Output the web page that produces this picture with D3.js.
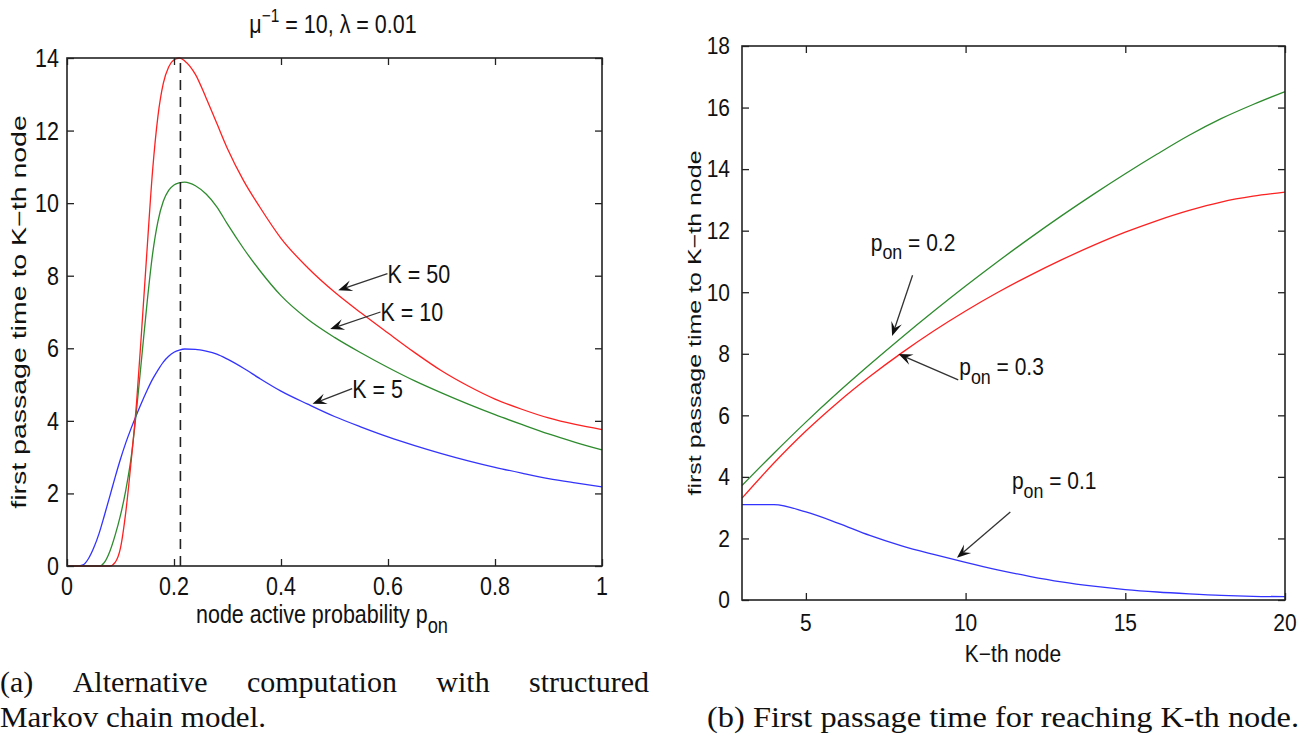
<!DOCTYPE html>
<html>
<head>
<meta charset="utf-8">
<script src="https://cdn.jsdelivr.net/npm/d3@7"></script>
<style>
  html, body { margin: 0; padding: 0; background: #fff; }
  svg { display: block; }
</style>
</head>
<body>
<svg id="chart" width="1311" height="735"></svg>
<script>
// ---------------- DATA ----------------
// (a) left panel: node active probability p_on vs first passage time
const pOn = [0, 0.02, 0.03, 0.04, 0.05, 0.06, 0.07, 0.08, 0.09, 0.10, 0.11, 0.12, 0.13, 0.14, 0.15,
  0.16, 0.17, 0.18, 0.19, 0.20, 0.21, 0.22, 0.24, 0.26, 0.28, 0.30, 0.33, 0.36, 0.40, 0.45,
  0.50, 0.55, 0.60, 0.65, 0.70, 0.75, 0.80, 0.85, 0.90, 0.95, 1.00];
const timeK5 = [0, 0, 0.03, 0.2, 0.5, 0.9, 1.4, 1.92, 2.45, 2.95, 3.4, 3.8, 4.17, 4.52, 4.85,
  5.15, 5.4, 5.62, 5.78, 5.89, 5.95, 5.98, 5.97, 5.92, 5.84, 5.7, 5.45, 5.17, 4.82, 4.46,
  4.12, 3.83, 3.56, 3.32, 3.1, 2.9, 2.72, 2.56, 2.41, 2.29, 2.18];
const timeK10 = [0, 0, 0, 0, 0, 0, 0.1, 0.4, 0.85, 1.4, 2.1, 3.0, 4.3, 5.8, 7.3,
  8.6, 9.5, 10.05, 10.35, 10.5, 10.56, 10.58, 10.48, 10.25, 9.9, 9.42, 8.75, 8.15, 7.45, 6.8,
  6.3, 5.87, 5.47, 5.1, 4.77, 4.46, 4.17, 3.9, 3.64, 3.41, 3.2];
const timeK50 = [0, 0, 0, 0, 0, 0, 0, 0, 0.1, 0.5, 1.5, 2.9, 4.5, 6.6, 8.8,
  10.9, 12.4, 13.3, 13.75, 13.95, 14.0, 13.92, 13.55, 12.9, 12.2, 11.5, 10.62, 9.9, 9.03, 8.22,
  7.55, 6.97, 6.42, 5.88, 5.38, 4.96, 4.6, 4.32, 4.08, 3.9, 3.76];
const leftSeriesNames = ["K = 5", "K = 10", "K = 50"];
const peakP = 0.212;                     // dashed marker at the optimum p_on
const leftXTicks = [0, 0.2, 0.4, 0.6, 0.8, 1];
const leftXTickLabels = ["0", "0.2", "0.4", "0.6", "0.8", "1"];
const leftYTicks = [0, 2, 4, 6, 8, 10, 12, 14];

// (b) right panel: K-th node vs first passage time
const kNode = [3, 4, 5, 6, 7, 8, 9, 10, 11, 12, 13, 14, 15, 16, 17, 18, 19, 20];
const timeP01 = [3.1, 3.1, 2.86, 2.5, 2.1, 1.76, 1.48, 1.22, 0.98, 0.77, 0.59, 0.45, 0.34, 0.26, 0.2, 0.15, 0.12, 0.11];
const timeP02 = [3.72, 4.77, 5.78, 6.74, 7.65, 8.53, 9.38, 10.2, 10.99, 11.75, 12.48, 13.18, 13.85, 14.49, 15.1, 15.64, 16.1, 16.52];
const timeP03 = [3.31, 4.45, 5.49, 6.42, 7.26, 8.03, 8.74, 9.39, 9.99, 10.54, 11.05, 11.52, 11.95, 12.33, 12.66, 12.93, 13.12, 13.25];
const rightSeriesNames = ["0.1", "0.2", "0.3"];
const rightXTicks = [5, 10, 15, 20];
const rightYTicks = [0, 2, 4, 6, 8, 10, 12, 14, 16, 18];

// annotation anchors in data units: [arrow tail x, tail y, arrow tip x, tip y (, label x, label y)]
const leftNotes = [[0.533, 4.89, 0.459, 4.47], [0.586, 7.0, 0.492, 6.53], [0.599, 8.06, 0.507, 7.6]];
const rightNotes = [[11.4, 2.86, 9.73, 1.37, 11.45, 3.75], [8.34, 10.55, 7.70, 8.58, 7.03, 11.5], [9.77, 7.15, 7.90, 7.99, 9.8, 7.45]];

// ---------------- RENDER ----------------
const svg = d3.select("#chart");
const SANS = "'Liberation Sans', Arial, Helvetica, sans-serif";
const SERIF = "'Liberation Serif', 'Times New Roman', serif";
const lineColors = ["#3333ff", "#2e8b2e", "#ff2020"];

// stretched text helper: parts = [{t, sub, sup}]
function stext(g, x, y, parts, opt) {
  const fs = opt.fs, sy = opt.sy || 1, anchor = opt.anchor || "start", rot = opt.rot || 0;
  let tr = `translate(${x},${y})`;
  if (rot) tr += ` rotate(${rot})`;
  tr += ` scale(1,${sy})`;
  const t = g.append("text")
    .attr("transform", tr)
    .attr("font-family", SANS)
    .attr("font-size", fs)
    .attr("fill", "#111")
    .attr("text-anchor", anchor);
  if (typeof parts === "string") { t.text(parts); return t; }
  let shift = 0;
  parts.forEach(p => {
    const ts = t.append("tspan").text(p.t);
    let target = 0, size = fs;
    if (p.sub) { target = fs * 0.38; size = fs * 0.85; }
    if (p.sup) { target = -fs * 0.45; size = fs * 0.72; }
    ts.attr("dy", target - shift).attr("font-size", size);
    shift = target;
  });
  return t;
}

function arrow(g, x1, y1, x2, y2) {
  const dx = x2 - x1, dy = y2 - y1, len = Math.hypot(dx, dy);
  const ux = dx / len, uy = dy / len, nx = -uy, ny = ux;
  const L = 14, W = 5.5;
  g.append("line").attr("x1", x1).attr("y1", y1)
    .attr("x2", x2 - ux * L * 0.6).attr("y2", y2 - uy * L * 0.6)
    .attr("stroke", "#333").attr("stroke-width", 1.3);
  const pts = [[x2, y2], [x2 - ux * L + nx * W, y2 - uy * L + ny * W],
    [x2 - ux * L * 0.6, y2 - uy * L * 0.6], [x2 - ux * L - nx * W, y2 - uy * L - ny * W]];
  g.append("polygon").attr("points", pts.map(p => p.join(",")).join(" ")).attr("fill", "#111");
}

function frame(g, x, y, xTicks, yTicks, tick) {
  const [x0, x1] = x.range(), [y1, y0] = y.range();
  const ax = [
    [d3.axisBottom(x).tickValues(xTicks), `translate(0,${y1})`],
    [d3.axisTop(x).tickValues(xTicks), `translate(0,${y0})`],
    [d3.axisLeft(y).tickValues(yTicks), `translate(${x0},0)`],
    [d3.axisRight(y).tickValues(yTicks), `translate(${x1},0)`]
  ];
  ax.forEach(([a, tr]) => {
    const gg = g.append("g").attr("transform", tr)
      .call(a.tickSizeInner(-tick).tickSizeOuter(0).tickFormat(""));
    gg.select(".domain").remove();
    gg.selectAll("line").attr("stroke", "#222").attr("stroke-width", 1.3);
  });
  g.append("rect").attr("x", x0).attr("y", y0).attr("width", x1 - x0).attr("height", y1 - y0)
    .attr("fill", "none").attr("stroke", "#222").attr("stroke-width", 1.6);
}

// ---------- Panel (a) ----------
{
  const FS = 21.5, SY = 1.17;
  const x = d3.scaleLinear().domain([0, 1]).range([67, 602]);
  const y = d3.scaleLinear().domain([0, 14]).range([566, 58]);
  const g = svg.append("g");
  const line = d3.line().x((d, i) => x(pOn[i])).y(d => y(d)).curve(d3.curveMonotoneX);
  [timeK5, timeK10, timeK50].forEach((s, i) => {
    g.append("path").attr("d", line(s)).attr("fill", "none")
      .attr("stroke", lineColors[i]).attr("stroke-width", 1.3);
  });
  g.append("line").attr("x1", x(peakP)).attr("x2", x(peakP)).attr("y1", y(0)).attr("y2", y(14))
    .attr("stroke", "#222").attr("stroke-width", 1.6).attr("stroke-dasharray", "10,7");
  frame(g, x, y, leftXTicks, leftYTicks, 7);
  leftXTicks.forEach((t, i) => stext(g, x(t), 595, leftXTickLabels[i], { fs: FS, sy: SY, anchor: "middle" }));
  leftYTicks.forEach(t => stext(g, 59, y(t) + FS * 0.36 * SY, String(t), { fs: FS, sy: SY, anchor: "end" }));
  stext(g, 322, 623, [{ t: "node active probability p" }, { t: "on", sub: true }], { fs: FS, sy: SY, anchor: "middle" });
  stext(g, 26, 312, "first passage time to K\u2212th node", { fs: 28.5, sy: 20 / 28.5, anchor: "middle", rot: -90 });
  stext(g, 333, 33, [{ t: "\u03bc" }, { t: "\u22121", sup: true }, { t: " = 10, \u03bb = 0.01" }], { fs: FS, sy: SY, anchor: "middle" });
  leftNotes.forEach((n, i) => {
    arrow(g, x(n[0]), y(n[1]), x(n[2]), y(n[3]));
    stext(g, x(n[0]), y(n[1]) + FS * 0.36 * SY, leftSeriesNames[i], { fs: FS, sy: SY });
  });
}

// ---------- Panel (b) ----------
{
  const FS = 21, SY = 1.1;
  const x = d3.scaleLinear().domain([3, 20]).range([742, 1285]);
  const y = d3.scaleLinear().domain([0, 18]).range([600, 46]);
  const g = svg.append("g");
  const line = d3.line().x((d, i) => x(kNode[i])).y(d => y(d)).curve(d3.curveMonotoneX);
  [timeP01, timeP02, timeP03].forEach((s, i) => {
    g.append("path").attr("d", line(s)).attr("fill", "none")
      .attr("stroke", lineColors[i]).attr("stroke-width", 1.3);
  });
  frame(g, x, y, rightXTicks, rightYTicks, 7);
  rightXTicks.forEach(t => stext(g, x(t), 631, String(t), { fs: FS, sy: SY, anchor: "middle" }));
  rightYTicks.forEach(t => stext(g, 730, y(t) + FS * 0.36 * SY, String(t), { fs: FS, sy: SY, anchor: "end" }));
  stext(g, 1013, 662, "K\u2212th node", { fs: FS, sy: SY, anchor: "middle" });
  stext(g, 701, 323, "first passage time to K\u2212th node", { fs: 25, sy: 19 / 25, anchor: "middle", rot: -90 });
  rightNotes.forEach((n, i) => {
    arrow(g, x(n[0]), y(n[1]), x(n[2]), y(n[3]));
    stext(g, x(n[4]), y(n[5]) + FS * 0.2 * SY,
      [{ t: "p" }, { t: "on", sub: true }, { t: " = " + rightSeriesNames[i] }], { fs: FS, sy: SY });
  });
}

// ---------- Captions ----------
function justified(words, x0, x1, yb, fs) {
  const g = svg.append("g");
  const nodes = words.map(w => g.append("text").attr("font-family", SERIF).attr("font-size", fs)
    .attr("fill", "#111").attr("y", yb).text(w));
  const widths = nodes.map(n => n.node().getComputedTextLength());
  const total = d3.sum(widths);
  const gap = (x1 - x0 - total) / (words.length - 1);
  let cx = x0;
  nodes.forEach((n, i) => { n.attr("x", cx); cx += widths[i] + gap; });
}
const CFS = 30;
justified(["(a)", "Alternative", "computation", "with", "structured"], 0, 649, 692, CFS);
svg.append("text").attr("font-family", SERIF).attr("font-size", CFS).attr("fill", "#111")
  .attr("x", 0).attr("y", 727).attr("textLength", 266).attr("lengthAdjust", "spacingAndGlyphs")
  .text("Markov chain model.");
svg.append("text").attr("font-family", SERIF).attr("font-size", CFS).attr("fill", "#111")
  .attr("x", 707).attr("y", 727).attr("textLength", 592).attr("lengthAdjust", "spacingAndGlyphs")
  .text("(b) First passage time for reaching K-th node.");
</script>
</body>
</html>
